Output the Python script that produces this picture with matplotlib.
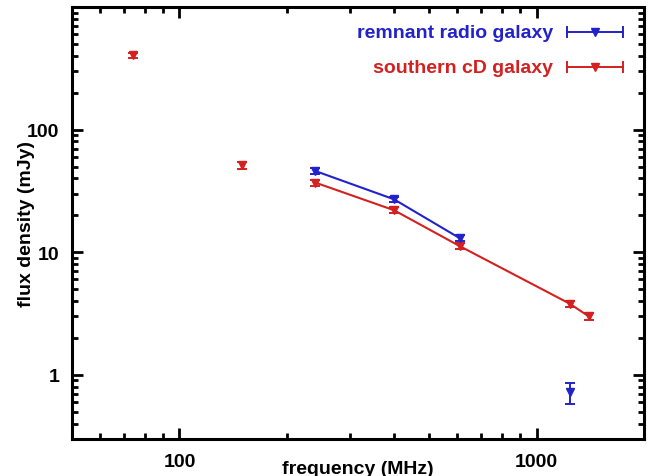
import numpy as np
import matplotlib.pyplot as plt
from matplotlib.ticker import LogLocator, NullFormatter, FixedLocator

plt.rcParams['font.family'] = ['Liberation Sans', 'DejaVu Sans']
plt.rcParams['font.weight'] = 'bold'

BLUE = '#2222cc'
RED = '#d42020'

# southern cD galaxy (all points with errors)
cd_freq = [74, 150, 240, 399, 610, 1240, 1400]
cd_flux = [405, 51, 37, 22, 11.2, 3.8, 3.0]
cd_err = [18, 3, 2.0, 1.2, 0.6, 0.2, 0.22]

# remnant radio galaxy
rem_freq = [240, 399, 610, 1240]
rem_flux = [46, 27, 13, 0.72]
rem_err = [2.3, 1.4, 0.7, 0.14]

# which points are joined by lines
cd_joined = slice(2, 7)
rem_joined = slice(0, 3)

fig = plt.figure(figsize=(6.55, 4.77), dpi=100)
ax = fig.add_axes([0.1099, 0.0776, 0.8733, 0.9057])
ax.set_xscale('log')
ax.set_yscale('log')

for freq, flux, err, joined, col in [
        (cd_freq, cd_flux, cd_err, cd_joined, RED),
        (rem_freq, rem_flux, rem_err, rem_joined, BLUE)]:
    ax.plot(freq[joined], flux[joined], color=col, lw=1.5, zorder=2)
    ax.errorbar(freq, flux, yerr=err, fmt='v', color=col, ms=5.5,
                ecolor=col, elinewidth=1.4, capsize=3.5, capthick=1.4, zorder=3)

ax.set_xlim(50, 2000)
ax.set_ylim(0.3, 1000)

ax.xaxis.set_major_locator(FixedLocator([100, 1000]))
ax.xaxis.set_minor_locator(LogLocator(base=10, subs=np.arange(2, 10)))
ax.xaxis.set_minor_formatter(NullFormatter())
ax.set_xticklabels(['100', '1000'])
ax.yaxis.set_major_locator(FixedLocator([1, 10, 100]))
ax.yaxis.set_minor_locator(LogLocator(base=10, subs=np.arange(2, 10)))
ax.yaxis.set_minor_formatter(NullFormatter())
ax.set_yticklabels(['1', '10', '100'])

ax.tick_params(which='both', direction='in', top=True, right=True, labelsize=14)
ax.tick_params(which='major', length=8, width=2)
ax.tick_params(which='minor', length=4, width=2)
ax.tick_params(axis='x', pad=10)
ax.tick_params(axis='y', pad=9)
for sp in ax.spines.values():
    sp.set_linewidth(2.2)

ax.set_xlabel('frequency (MHz)', fontsize=14, fontweight='bold', va='center')
ax.xaxis.set_label_coords(0.5, -0.068)
ax.set_ylabel('flux density (mJy)', fontsize=14, fontweight='bold', va='center')
ax.yaxis.set_label_coords(-0.08, 0.5)

# gnuplot-style key: text on the left, errorbar sample on the right
key = [('remnant radio galaxy', BLUE, 0.942), ('southern cD galaxy', RED, 0.861)]
for label, col, ky in key:
    ax.text(0.841, ky, label, transform=ax.transAxes, color=col, fontsize=14,
            fontweight='bold', ha='right', va='center')
    ax.plot([0.865, 0.963], [ky, ky], transform=ax.transAxes, color=col, lw=1.4,
            clip_on=False)
    ax.plot([0.865, 0.963], [ky, ky], transform=ax.transAxes, color=col, ls='none',
            marker='|', ms=8, mew=1.4, clip_on=False)
    ax.plot([0.914], [ky], transform=ax.transAxes, color=col, marker='v', ms=5.5,
            clip_on=False)

fig.savefig('out.png', dpi=100)
